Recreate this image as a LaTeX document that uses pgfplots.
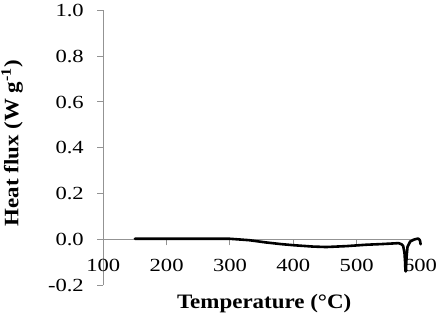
\documentclass[border=0pt]{standalone}
\usepackage{fontspec}
\setmainfont{Liberation Serif}
\newfontfamily\wide{Liberation Serif}[FakeStretch=1.22]
\newfontfamily\lab{Liberation Serif}[FakeStretch=1.12]
\usepackage{pgfplots}
\pgfplotsset{compat=1.18}
\begin{document}
\begin{tikzpicture}
\begin{axis}[
  scale only axis, width=316.7bp, height=274.5bp,
  xmin=100, xmax=600, ymin=-0.2, ymax=1.0,
  axis x line=middle, axis y line=left,
  axis line style={-, draw=gray!85, line width=1bp},
  xtick={100,200,300,400,500,600},
  ytick={-0.2,0,0.2,0.4,0.6,0.8,1.0},
  hide obscured x ticks=false, hide obscured y ticks=false,
  tick align=outside,
  tick style={draw=gray!85, line width=1bp},
  major tick length=6bp,
  /pgf/number format/assume math mode=true,
  ticklabel style={font=\wide\fontsize{18.5bp}{22bp}\selectfont},
  yticklabel style={xshift=-10bp, /pgf/number format/.cd, fixed, fixed zerofill, precision=1},
  xticklabel style={yshift=-10bp, /pgf/number format/.cd, fixed, precision=0},
  xlabel={\textbf{Temperature (°C)}},
  ylabel={\textbf{Heat flux (W g\textsuperscript{-1})}},
  xlabel style={at={(axis description cs:0.508,-0.0874)}, anchor=base, font=\lab\fontsize{20.5bp}{24bp}\selectfont},
  ylabel style={at={(axis description cs:-0.288,0.516)}, anchor=center, font=\lab\fontsize{20.5bp}{24bp}\selectfont},
  clip=false,
]
\addplot[black, line width=2.6bp, line join=round, line cap=round] table {
x y
150 0.002
200 0.002
250 0.002
300 0.002
330 -0.004
357 -0.014
380 -0.021
400 -0.026
431 -0.032
452 -0.034
484 -0.030
515 -0.024
540 -0.021
560 -0.018
566 -0.017
571 -0.022
573.5 -0.030
575.5 -0.060
576.5 -0.100
577 -0.140
577.8 -0.140
578.7 -0.080
580.3 -0.033
584.5 -0.010
590 -0.002
595 0.002
598 0.002
600 -0.006
601 -0.022
};
\coordinate (ll) at (axis cs:100,-0.2);
\end{axis}
\pgfresetboundingbox
\path (ll) ++(-103.3bp,-31bp) rectangle ++(439bp,316bp);
\end{tikzpicture}
\end{document}
